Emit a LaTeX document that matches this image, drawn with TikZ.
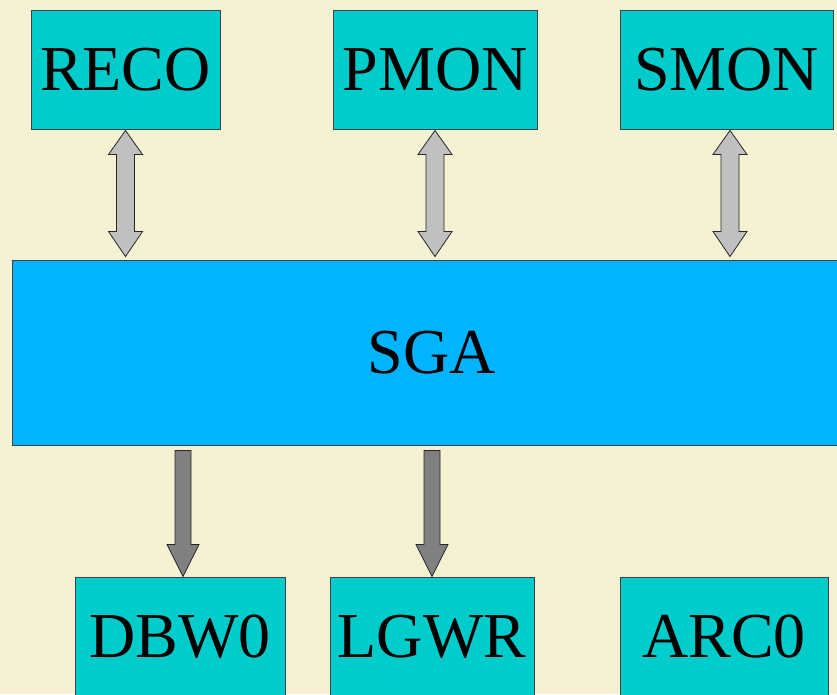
\documentclass[tikz,border=0pt]{standalone}
\usepackage{fontspec}
\setmainfont{Liberation Serif}
\usetikzlibrary{calc}
\definecolor{bgcream}{RGB}{245,241,211}
\definecolor{boxcyan}{RGB}{0,204,204}
\definecolor{sgablue}{RGB}{0,180,255}
\definecolor{lightarr}{RGB}{192,192,192}
\definecolor{darkarr}{RGB}{128,128,128}
\tikzset{
  proc/.style={draw=black!75, line width=0.9pt, fill=boxcyan, minimum height=119pt,
    inner sep=0pt, font=\fontsize{64}{64}\selectfont},
  sgabox/.style={draw=black!75, line width=0.9pt, fill=sgablue, minimum width=840pt,
    minimum height=185pt, inner sep=0pt, font=\fontsize{64}{64}\selectfont},
  dblarr/.style={draw=black!85, line width=0.8pt, fill=lightarr, line join=miter},
  onearr/.style={draw=black!85, line width=0.8pt, fill=darkarr, line join=miter},
}
% two-headed fat arrow from #1.south straight down to the top of #2, shifted by #3
\newcommand\fatdouble[3]{%
  \draw[dblarr] let \p1=($(#1.south)+(#3,-1pt)$), \p2=($(#1.south |- #2.north)+(#3,3pt)$) in
    (\x1,\y1) -- (\x1+17pt,\y1-24pt) -- (\x1+9pt,\y1-24pt) -- (\x1+9pt,\y2+25pt)
    -- (\x1+17pt,\y2+25pt) -- (\x1,\y2) -- (\x1-17pt,\y2+25pt) -- (\x1-9pt,\y2+25pt)
    -- (\x1-9pt,\y1-24pt) -- (\x1-17pt,\y1-24pt) -- cycle;}
% one-headed fat arrow from the bottom of #1 straight down to #2.north, shifted by #3
\newcommand\fatsingle[3]{%
  \draw[onearr] let \p1=($(#1.south -| #2.north)+(#3,-5pt)$), \p2=($(#2.north)+(#3,0pt)$) in
    (\x1-8pt,\y1) -- (\x1+8pt,\y1) -- (\x1+8pt,\y2+32pt) -- (\x1+16pt,\y2+32pt)
    -- (\x1,\y2) -- (\x1-16pt,\y2+32pt) -- (\x1-8pt,\y2+32pt) -- cycle;}
\begin{document}
\begin{tikzpicture}[x=1pt,y=1pt]
  \useasboundingbox (0,0) rectangle (837,694);
  \fill[bgcream] (0,0) rectangle (837,694);

  % background processes (top row)
  \node[proc, minimum width=189pt] (reco) at (125.5,624.5) {RECO};
  \node[proc, minimum width=204pt] (pmon) at (435,624.5) {PMON};
  \node[proc, minimum width=213pt] (smon) at (726.5,624.5) {SMON};

  % shared memory area
  \node[sgabox] (sga) at (432,341.5) {SGA};

  % background processes (bottom row)
  \node[proc, minimum width=210pt] (dbw) at (180,57.5) {DBW0};
  \node[proc, minimum width=204pt] (lgwr) at (432,57.5) {LGWR};
  \node[proc, minimum width=208pt] (arc) at (724,57.5) {ARC0};

  % connectors
  \fatdouble{reco}{sga}{0pt}
  \fatdouble{pmon}{sga}{0pt}
  \fatdouble{smon}{sga}{3.5pt}
  \fatsingle{sga}{dbw}{3pt}
  \fatsingle{sga}{lgwr}{0pt}
\end{tikzpicture}
\end{document}
